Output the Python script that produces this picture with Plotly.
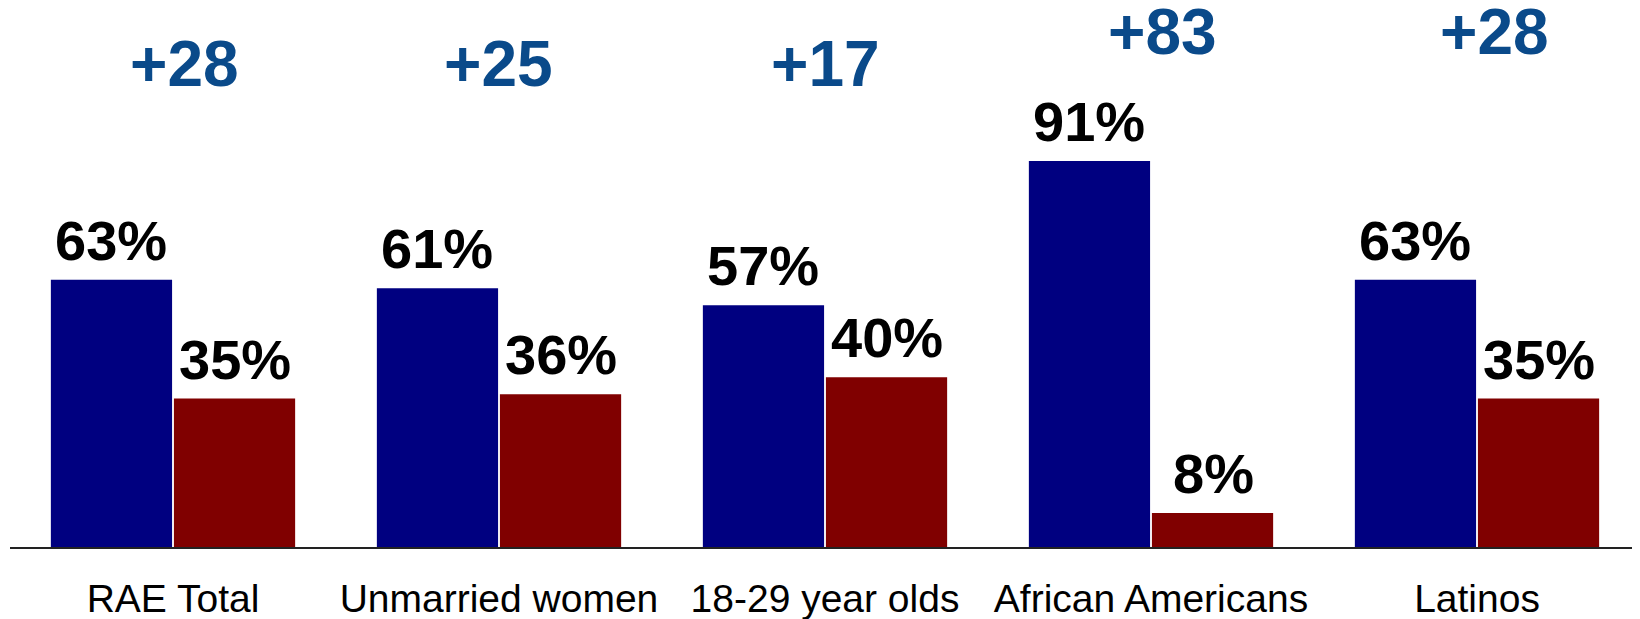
import plotly.graph_objects as go

# data
categories = ['RAE Total', 'Unmarried women', '18-29 year olds',
              'African Americans', 'Latinos']
dem_pct = [63, 61, 57, 91, 63]
rep_pct = [35, 36, 40, 8, 35]
margins = ['+28', '+25', '+17', '+83', '+28']

# where the margin labels sit (data units above the axis) and small nudges
margin_level = [114, 114, 114, 121.5, 121.5]
margin_nudge = [11, -1, 0, 11, 17]

BLUE = '#000080'
RED = '#800000'
LABEL_BLUE = '#0A4A8A'
FONT = 'Arial, Liberation Sans, sans-serif'

fig = go.Figure()
fig.add_trace(go.Bar(
    x=categories, y=dem_pct, marker_color=BLUE,
    marker_line=dict(color=BLUE, width=0),
    hovertemplate='%{x}: %{y}%<extra></extra>',
))
fig.add_trace(go.Bar(
    x=categories, y=rep_pct, marker_color=RED,
    marker_line=dict(color=RED, width=0),
    hovertemplate='%{x}: %{y}%<extra></extra>',
))

# percentage labels above each bar
for i, cat in enumerate(categories):
    for val, shift in ((dem_pct[i], -62), (rep_pct[i], 62)):
        fig.add_annotation(
            x=cat, y=val, xref='x', yref='y',
            text=f'<b>{val}%</b>', showarrow=False,
            xshift=shift, yanchor='bottom', yshift=6,
            font=dict(family=FONT, size=56, color='black'),
        )
    # margin label above each group
    fig.add_annotation(
        x=cat, y=margin_level[i], xref='x', yref='y',
        text=f'<b>{margins[i]}</b>', showarrow=False,
        yanchor='middle', xshift=margin_nudge[i],
        font=dict(family=FONT, size=64, color=LABEL_BLUE),
    )

# the page body adds an 8px margin, so the figure is 8px smaller
fig.update_layout(
    width=1632, height=611,
    margin=dict(l=2, r=0, t=0, b=72),
    barmode='group', bargap=0.245, bargroupgap=0.015,
    showlegend=False,
    plot_bgcolor='white', paper_bgcolor='white',
    font=dict(family=FONT, color='black'),
    xaxis=dict(
        showline=True, linecolor='#222222', linewidth=2,
        showgrid=False, ticks='', ticklabelstandoff=16,
        tickfont=dict(family=FONT, size=39, color='black'),
    ),
    yaxis=dict(
        range=[0, 127.1], visible=False, showgrid=False, zeroline=False,
    ),
)

fig.write_html('out.html')
